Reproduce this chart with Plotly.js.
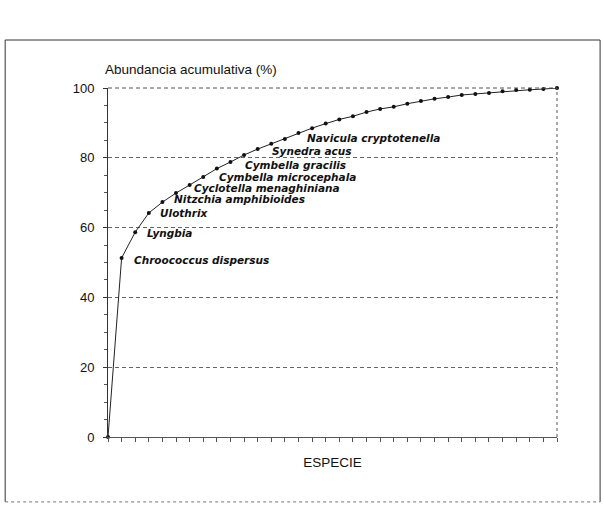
<!DOCTYPE html>
<html>
<head>
<meta charset="utf-8">
<script src="https://cdn.plot.ly/plotly-3.0.1.min.js"></script>
<style>
  html, body { margin: 0; padding: 0; background: #fff; }
  #chart { width: 604px; height: 507px; }
</style>
</head>
<body>
<div id="chart"></div>
<script>
// Species rank (0 = origin) and cumulative abundance (%)
const especie = [0, 1, 2, 3, 4, 5, 6, 7, 8, 9, 10, 11, 12, 13, 14, 15, 16, 17, 18, 19, 20,
                 21, 22, 23, 24, 25, 26, 27, 28, 29, 30, 31, 32, 33];
const abundancia = [0, 51.3, 58.7, 64.2, 67.3, 69.9, 72.2, 74.5, 76.9, 78.8, 80.8, 82.5, 84.0,
                    85.4, 87.1, 88.5, 89.8, 91.0, 91.9, 93.1, 94.0, 94.6, 95.5, 96.3, 96.9,
                    97.4, 98.0, 98.3, 98.6, 99.1, 99.4, 99.5, 99.7, 100];
// Named species (ranks 1..9)
const nombres = ["Chroococcus dispersus", "Lyngbia", "Ulothrix", "Nitzchia amphibioides",
                 "Cyclotella menaghiniana", "Cymbella microcephala", "Cymbella gracilis",
                 "Synedra acus", "Navicula cryptotenella"];
const yTicks = [0, 20, 40, 60, 80, 100];

// label offsets in pixels (layout only)
const labelShift = [[10, -2], [10, -1], [9, 0], [10, 3], [16, 5], [27, 8], [40, 12], [53, 18], [75, 24]];

const labelFont = {family: "DejaVu Sans, sans-serif", size: 10.5, color: "#111", weight: "bold", style: "italic"};

const annotations = nombres.map((n, i) => ({
  x: especie[i + 1], y: abundancia[i + 1], xref: "x", yref: "y",
  text: n, showarrow: false, xanchor: "left", yanchor: "middle",
  xshift: labelShift[i][0], yshift: labelShift[i][1],
  font: labelFont
}));
annotations.push({
  text: "Abundancia acumulativa (%)", showarrow: false,
  xref: "paper", yref: "paper", x: -0.012, y: 1.0516,
  xanchor: "left", yanchor: "middle",
  font: {family: "Liberation Sans, Arial, sans-serif", size: 13.5, color: "#111"}
});

const trace = {
  x: especie, y: abundancia, type: "scatter", mode: "lines+markers",
  line: {color: "#222", width: 1},
  marker: {color: "#111", size: 4},
  cliponaxis: false, hoverinfo: "skip"
};

const frame = {color: "#333", width: 1};
const shapes = [
  // outer frame
  {type: "line", xref: "paper", yref: "paper", x0: -0.229, x1: 1.096, y0: 1.1375, y1: 1.1375, line: frame},
  {type: "line", xref: "paper", yref: "paper", x0: -0.229, x1: -0.229, y0: 1.1375, y1: -0.186, line: frame},
  {type: "line", xref: "paper", yref: "paper", x0: 1.096, x1: 1.096, y0: 1.1375, y1: -0.186, line: frame},
  {type: "line", xref: "paper", yref: "paper", x0: -0.229, x1: 1.096, y0: -0.186, y1: -0.186, line: {color: "#777", width: 1, dash: "dot"}},
  // right border and top gridline of plot
  {type: "line", xref: "paper", yref: "paper", x0: 1, x1: 1, y0: 0, y1: 1, line: {color: "#555", width: 1, dash: "3px,3px"}},
  {type: "line", xref: "paper", yref: "paper", x0: 0, x1: 1, y0: 1, y1: 1, line: {color: "#555", width: 1, dash: "4px,3px"}}
];

const layout = {
  width: 604, height: 507,
  margin: {l: 108, r: 47, t: 88, b: 70},
  paper_bgcolor: "#fff", plot_bgcolor: "#fff",
  showlegend: false,
  font: {family: "Liberation Sans, Arial, sans-serif", color: "#111"},
  xaxis: {
    range: [0, 33], tickvals: especie, showticklabels: false,
    ticks: "outside", ticklen: 4, tickcolor: "#555", tickwidth: 1,
    showgrid: false, zeroline: false,
    showline: true, linecolor: "#555", linewidth: 1,
    title: {text: "ESPECIE", font: {size: 13.5, color: "#111"}, standoff: 16}
  },
  yaxis: {
    range: [0, 100], tickvals: yTicks,
    ticks: "outside", ticklen: 4, tickcolor: "#333",
    minor: {dtick: 5, ticks: "outside", ticklen: 3, tickcolor: "#555", showgrid: false},
    showgrid: true, gridcolor: "#666", gridwidth: 1, griddash: "4px,3px",
    zeroline: false, showline: true, linecolor: "#333", linewidth: 1,
    tickfont: {size: 13, color: "#111"}, ticklabelstandoff: 6
  },
  annotations: annotations,
  shapes: shapes
};

Plotly.newPlot("chart", [trace], layout, {displayModeBar: false, staticPlot: true});
</script>
</body>
</html>
